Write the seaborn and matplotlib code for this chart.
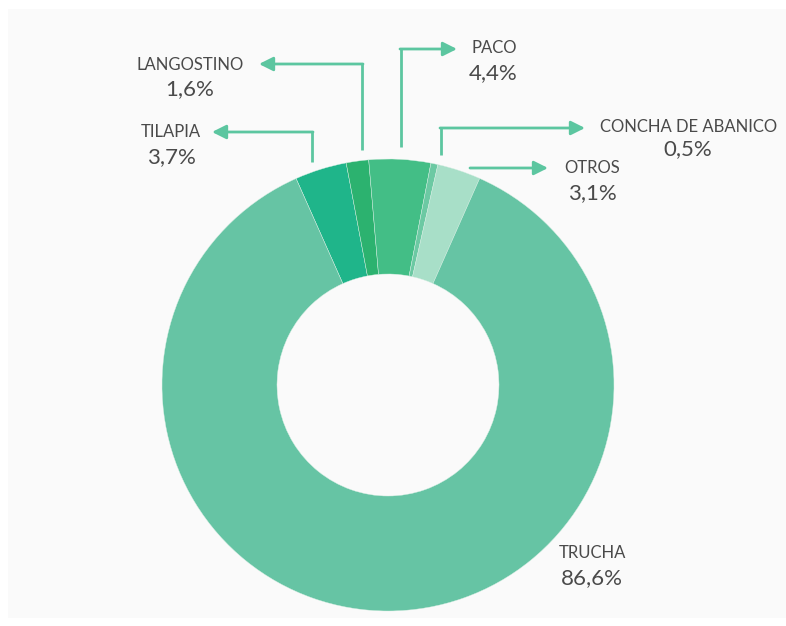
import matplotlib
matplotlib.use("Agg")
import matplotlib.pyplot as plt
import matplotlib.patches as mpatches
import seaborn as sns

# data (clockwise from the top-left slice)
species = ["TILAPIA", "LANGOSTINO", "PACO", "CONCHA DE ABANICO", "OTROS", "TRUCHA"]
shares = [3.7, 1.6, 4.4, 0.5, 3.1, 86.6]
share_labels = ["3,7%", "1,6%", "4,4%", "0,5%", "3,1%", "86,6%"]
colors = ["#1fb58a", "#2cb26f", "#43be86", "#6cc9a3", "#a8dfc8", "#66c4a4"]

W, H = 786, 626

sns.set_theme(style="white")
plt.rcParams["font.family"] = ["Lato", "DejaVu Sans"]

fig = plt.figure(figsize=(W / 100, H / 100), dpi=100, facecolor="white")
ax = fig.add_axes([0, 0, 1, 1])


def py(y):
    # picture rows (top down) -> axis y
    return H - y


# light panel behind the chart
ax.add_patch(mpatches.Rectangle((8, py(618)), W - 8, 609, facecolor="#fafafa",
                                edgecolor="none", zorder=0))

ax.pie(shares, colors=colors, center=(388, py(385)), radius=226,
       startangle=114, counterclock=False, frame=True,
       wedgeprops=dict(width=115, edgecolor="#d8efe4", linewidth=0.3))
ax.set_xlim(0, W)
ax.set_ylim(0, H)
ax.set_aspect("equal")
ax.axis("off")

line_col = "#5cc6a0"

# label layout: (vertical line x, line bottom y, elbow y, arrow tip x, name pos, pct pos)
layout = {
    "TILAPIA": (312, 162, 132, 212, (171, 132), (171, 157)),
    "LANGOSTINO": (362, 150, 64, 259, (190, 65), (190, 89)),
    "PACO": (401, 147, 49, 457, (494, 48), (493, 73)),
    "CONCHA DE ABANICO": (441, 155, 128, 585, (689, 127), (688, 149)),
    "OTROS": (None, None, 168, 548, (592, 168), (592, 193)),
    "TRUCHA": (None, None, None, None, (592, 553), (592, 578)),
}

for name, pct in zip(species, share_labels):
    vx, vy0, ey, tip, npos, ppos = layout[name]
    if ey is not None:
        if vx is not None:
            ax.plot([vx, vx], [py(vy0), py(ey)], color=line_col, lw=2,
                    solid_capstyle="butt", zorder=3)
            start = vx
        else:
            start = 471
        ax.annotate("", xy=(tip, py(ey)), xytext=(start - 1 if tip > start else start + 1, py(ey)),
                    arrowprops=dict(arrowstyle="-|>,head_length=0.7,head_width=0.35",
                                    color=line_col, lw=2, shrinkA=0, shrinkB=0),
                    zorder=3)
    ax.text(npos[0], py(npos[1]), name, ha="center", va="center",
            fontsize=12, color="#4a4a4a")
    ax.text(ppos[0], py(ppos[1]), pct, ha="center", va="center",
            fontsize=16, color="#4a4a4a")

fig.savefig("out.png", dpi=100, facecolor="white")
